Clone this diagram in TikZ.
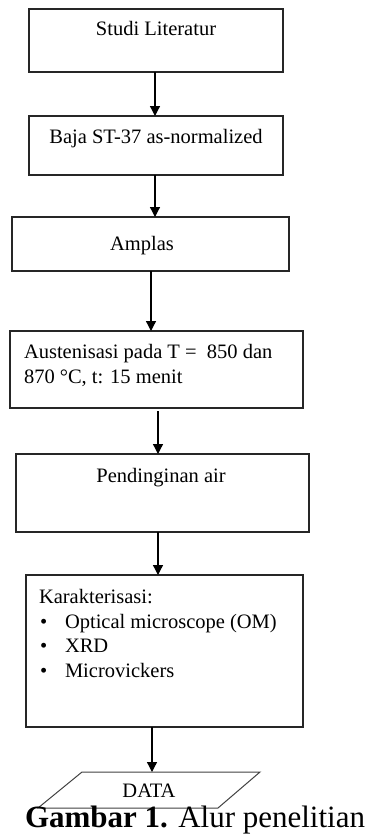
\documentclass[tikz,border=0pt]{standalone}
\usepackage{fontspec}
\setmainfont{Liberation Serif}
\usetikzlibrary{arrows.meta,calc}
\begin{document}
\begin{tikzpicture}[x=1pt,y=-1pt,
  box/.style={draw=black!85,line width=1.1pt,rectangle,inner sep=0pt,outer sep=0pt},
  txt/.style={inner sep=0pt,outer sep=0pt,font=\fontsize{20.5}{24.5}\selectfont},
  arr/.style={line width=1.3pt,-{Triangle[width=10pt,length=10pt]}}]
\useasboundingbox (0,0) rectangle (369,835);
% boxes
\node[box,minimum width=254pt,minimum height=63pt] (b1) at (156,40.5) {};
\node[box,minimum width=254pt,minimum height=59pt] (b2) at (156,145.5) {};
\node[box,minimum width=277pt,minimum height=54pt] (b3) at (150.5,244) {};
\node[box,minimum width=293pt,minimum height=77pt] (b4) at (156.5,369.5) {};
\node[box,minimum width=293pt,minimum height=78pt] (b5) at (162.5,493) {};
\node[box,minimum width=277pt,minimum height=152pt] (b6) at (164.5,651) {};
% texts
\node[txt,anchor=base] (t1) at (156,35) {Studi Literatur};
\node[txt,anchor=base] (t2) at (156,143) {Baja ST-37 as-normalized};
\node[txt,anchor=base] (t3) at (142,250) {Amplas};
\node[txt,anchor=base west] (t4a) at (24,358) {Austenisasi pada T =\ \ 850 dan};
\node[txt,anchor=base west] (t4b) at (24,383) {870 °C, t: 15 menit};
\node[txt,anchor=base] (t5) at (161,482) {Pendinginan air};
\node[txt,anchor=base west] (t6) at (39,603) {Karakterisasi:};
\node[txt,anchor=base west] (i1b) at (40,628) {•};
\node[txt,anchor=base west] (i1) at (65,628) {Optical microscope (OM)};
\node[txt,anchor=base west] (i2b) at (40,652) {•};
\node[txt,anchor=base west] (i2) at (65,652) {XRD};
\node[txt,anchor=base west] (i3b) at (40,677) {•};
\node[txt,anchor=base west] (i3) at (65,677) {Microvickers};
% data parallelogram
\draw[draw=black!75,line width=1pt] (82,772) coordinate (d1) -- (260,772) coordinate (d2)
  -- (218,808) coordinate (d3) -- (38,808) coordinate (d4) -- cycle;
\node[txt,anchor=base] (data) at (149,797) {DATA};
% arrows
\draw[arr] (b1.south -| 155,0) -- (b2.north -| 155,0);
\draw[arr] (b2.south -| 155,0) -- (b3.north -| 155,0);
\draw[arr] (b3.south -| 151,0) -- (b4.north -| 151,0);
\draw[arr] ($(b4.south -| 158,0)+(0,3)$) -- (b5.north -| 158,0);
\draw[arr] (b5.south -| 158,0) -- (b6.north -| 158,0);
\draw[arr] (b6.south -| 152,0) -- (d1 -| 152,0);
% caption
\node[inner sep=0pt,outer sep=0pt,anchor=base west,font=\fontsize{31}{36}\selectfont] (cap) at (25,827) {\textbf{Gambar 1.} Alur penelitian};
\end{tikzpicture}
\end{document}
